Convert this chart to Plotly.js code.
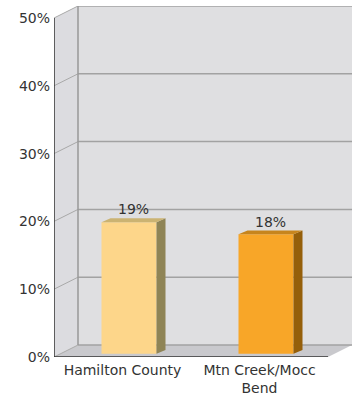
<!DOCTYPE html>
<html><head><meta charset="utf-8">
<script src="https://cdn.plot.ly/plotly-3.0.1.min.js"></script>
<style>html,body{margin:0;padding:0;background:#fff}#chart{width:352px;height:396px}</style>
</head><body><div id="chart"></div>
<script>
const categories = ["Hamilton County", "Mtn Creek/Mocc<br>Bend"];
const values = [19.4, 17.6];
const valueLabels = ["19%", "18%"];
const frontColors = ["#FDD68A", "#F8A628"];
const sideColors = ["#8F8456", "#955F0A"];
const topColors = ["#CBB372", "#C7851D"];
const yTicks = [0, 10, 20, 30, 40, 50];
const yTickText = ["0%", "10%", "20%", "30%", "40%", "50%"];

// geometry (pixels -> data units)
const W = 352, H = 396, mL = 54, mR = 0, mT = 6, mB = 39;
const pxX = 137, pxY = 6.78;
const plotW = W - mL - mR, plotH = H - mT - mB;
const xr = [-0.5, -0.5 + plotW / pxX];
const yr = [0, plotH / pxY];
const xMin = -0.5, xMax = categories.length - 0.5, yMax = yTicks[yTicks.length - 1];
const wallDX = 24 / pxX, wallDY = 12 / pxY;
const barDX = 6.5 / pxX, barDY = 3.3 / pxY;
const sideDX = 9 / pxX, sideDY = 3.8 / pxY;
const barW = 55 / pxX;

const font = {family: "DejaVu Sans, Verdana, sans-serif", size: 14, color: "#333"};
const shapes = [];
const L = (x0, y0, x1, y1, color, width) => shapes.push({type: "line", xref: "x", yref: "y", x0, y0, x1, y1, line: {color, width}, layer: "below"});

// back wall
shapes.push({type: "rect", xref: "x", yref: "y", x0: xMin + wallDX, x1: xr[1] + 0.1, y0: wallDY, y1: yMax + wallDY, fillcolor: "#dfdfe1", line: {width: 0}, layer: "below"});
// left wall
shapes.push({type: "path", xref: "x", yref: "y", path: `M${xMin},0 L${xMin + wallDX},${wallDY} L${xMin + wallDX},${yMax + wallDY} L${xMin},${yMax} Z`, fillcolor: "#dcdce0", line: {width: 0}, layer: "below"});
// floor
shapes.push({type: "path", xref: "x", yref: "y", path: `M${xMin},0 L${xMax},0 L${xMax + wallDX},${wallDY} L${xMin + wallDX},${wallDY} Z`, fillcolor: "#c9c9cd", line: {width: 0}, layer: "below"});
// grid lines
yTicks.forEach(t => {
  L(xMin + wallDX, t + wallDY, xr[1] + 0.1, t + wallDY, "#a2a2a2", 1.5);
  L(xMin, t, xMin + wallDX, t + wallDY, "#a8a8a8", 1);
});
L(xMin + wallDX, wallDY, xMin + wallDX, yMax + wallDY, "#999", 1.5);
// front axes
L(xMin, 0, xMin, yMax, "#333", 1.5);
L(xMin, 0, xMax, 0, "#333", 1.5);

const traces = [{
  type: "bar", x: categories.map((c, i) => i), y: values, base: barDY,
  width: barW, offset: -barW / 2 + barDX,
  marker: {color: frontColors, line: {width: 0}}, hoverinfo: "skip"
}];
const annotations = [];
values.forEach((v, i) => {
  const xl = i - barW / 2 + barDX, xrr = xl + barW, top = barDY + v;
  traces.push({type: "scatter", mode: "lines", x: [xrr, xrr, xrr + sideDX, xrr + sideDX, xrr], y: [barDY, top, top + sideDY, barDY + sideDY, barDY],
    fill: "toself", fillcolor: sideColors[i], line: {width: 0}, hoverinfo: "skip"});
  traces.push({type: "scatter", mode: "lines", x: [xl, xrr, xrr + sideDX, xl + sideDX, xl], y: [top, top, top + sideDY, top + sideDY, top],
    fill: "toself", fillcolor: topColors[i], line: {width: 0}, hoverinfo: "skip"});
  annotations.push({x: xl + (barW + sideDX) / 2, y: top + sideDY, xref: "x", yref: "y", text: valueLabels[i], showarrow: false, yanchor: "middle", yshift: 9, font});
});

Plotly.newPlot("chart", traces, {
  width: W, height: H, margin: {l: mL, r: mR, t: mT, b: mB},
  paper_bgcolor: "#fff", plot_bgcolor: "#fff", showlegend: false, font,
  xaxis: {range: xr, tickvals: categories.map((c, i) => i), ticktext: categories, showgrid: false, zeroline: false, showline: false, ticks: "", ticklabelstandoff: 3, fixedrange: true},
  yaxis: {range: yr, tickvals: yTicks, ticktext: yTickText, showgrid: false, zeroline: false, showline: false, ticks: "", ticklabelstandoff: 3, fixedrange: true},
  shapes, annotations
}, {staticPlot: true});
</script></body></html>
